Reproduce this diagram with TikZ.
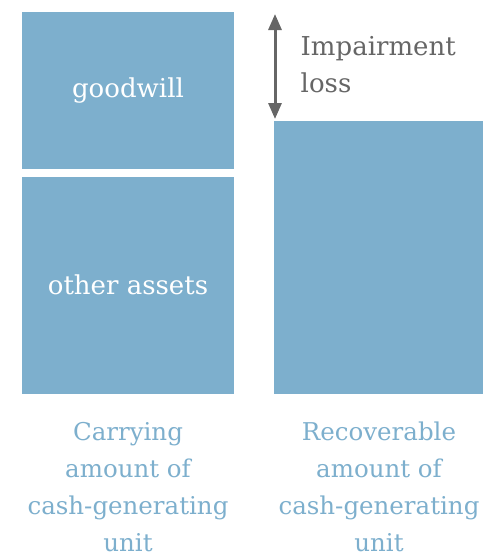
\documentclass[tikz,border=0pt]{standalone}
\usepackage{fontspec}
\setmainfont{DejaVu Serif}
\usetikzlibrary{arrows.meta}

\definecolor{barblue}{HTML}{7DAFCD}
\definecolor{lossgrey}{HTML}{666666}
\tikzstyle{bar}=[fill=barblue,draw=none,inner sep=0pt,text=white,font=\bigtext]
\tikzstyle{caption}=[text=barblue,align=center,inner sep=0pt,font=\captiontext]
\tikzstyle{loss}=[draw=lossgrey,line width=3pt,{Triangle[length=16pt,width=13pt]}-{Triangle[length=16pt,width=13pt]}]
\newcommand{\bigtext}{\fontsize{26}{37}\selectfont}
\newcommand{\captiontext}{\fontsize{24.5}{37}\selectfont}

\begin{document}
\begin{tikzpicture}[x=1pt, y=-1pt]
    \useasboundingbox (0,0) rectangle (483,555);
    % First we draw the bars
    \foreach \pos/\bw/\bh/\name/\lbl in {{(128,90.5)/212/157/goodwill/goodwill},
        {(128,285.1)/212/217.2/other/other assets}, {(378.5,257.2)/209/273/recoverable/}}
        \node[bar, minimum width=\bw pt, minimum height=\bh pt] (\name) at \pos {\lbl};
    % Captions under the bars (base is the last line)
    \node[caption, anchor=base] (carrying) at (128,551.5) {Carrying\\amount of\\cash-generating\\unit};
    \node[caption, anchor=base] (recov) at (379,551.5) {Recoverable\\amount of\\cash-generating\\unit};
    % The impairment loss
    \coordinate (losstop) at (275,14);
    \coordinate (lossbot) at (275,119);
    \path[loss] (losstop) -- (lossbot);
    \node[anchor=base west, inner sep=0pt, text=lossgrey, align=left, font=\bigtext] (losstext) at (300.5,92.5) {Impairment\\loss};
\end{tikzpicture}
\end{document}
